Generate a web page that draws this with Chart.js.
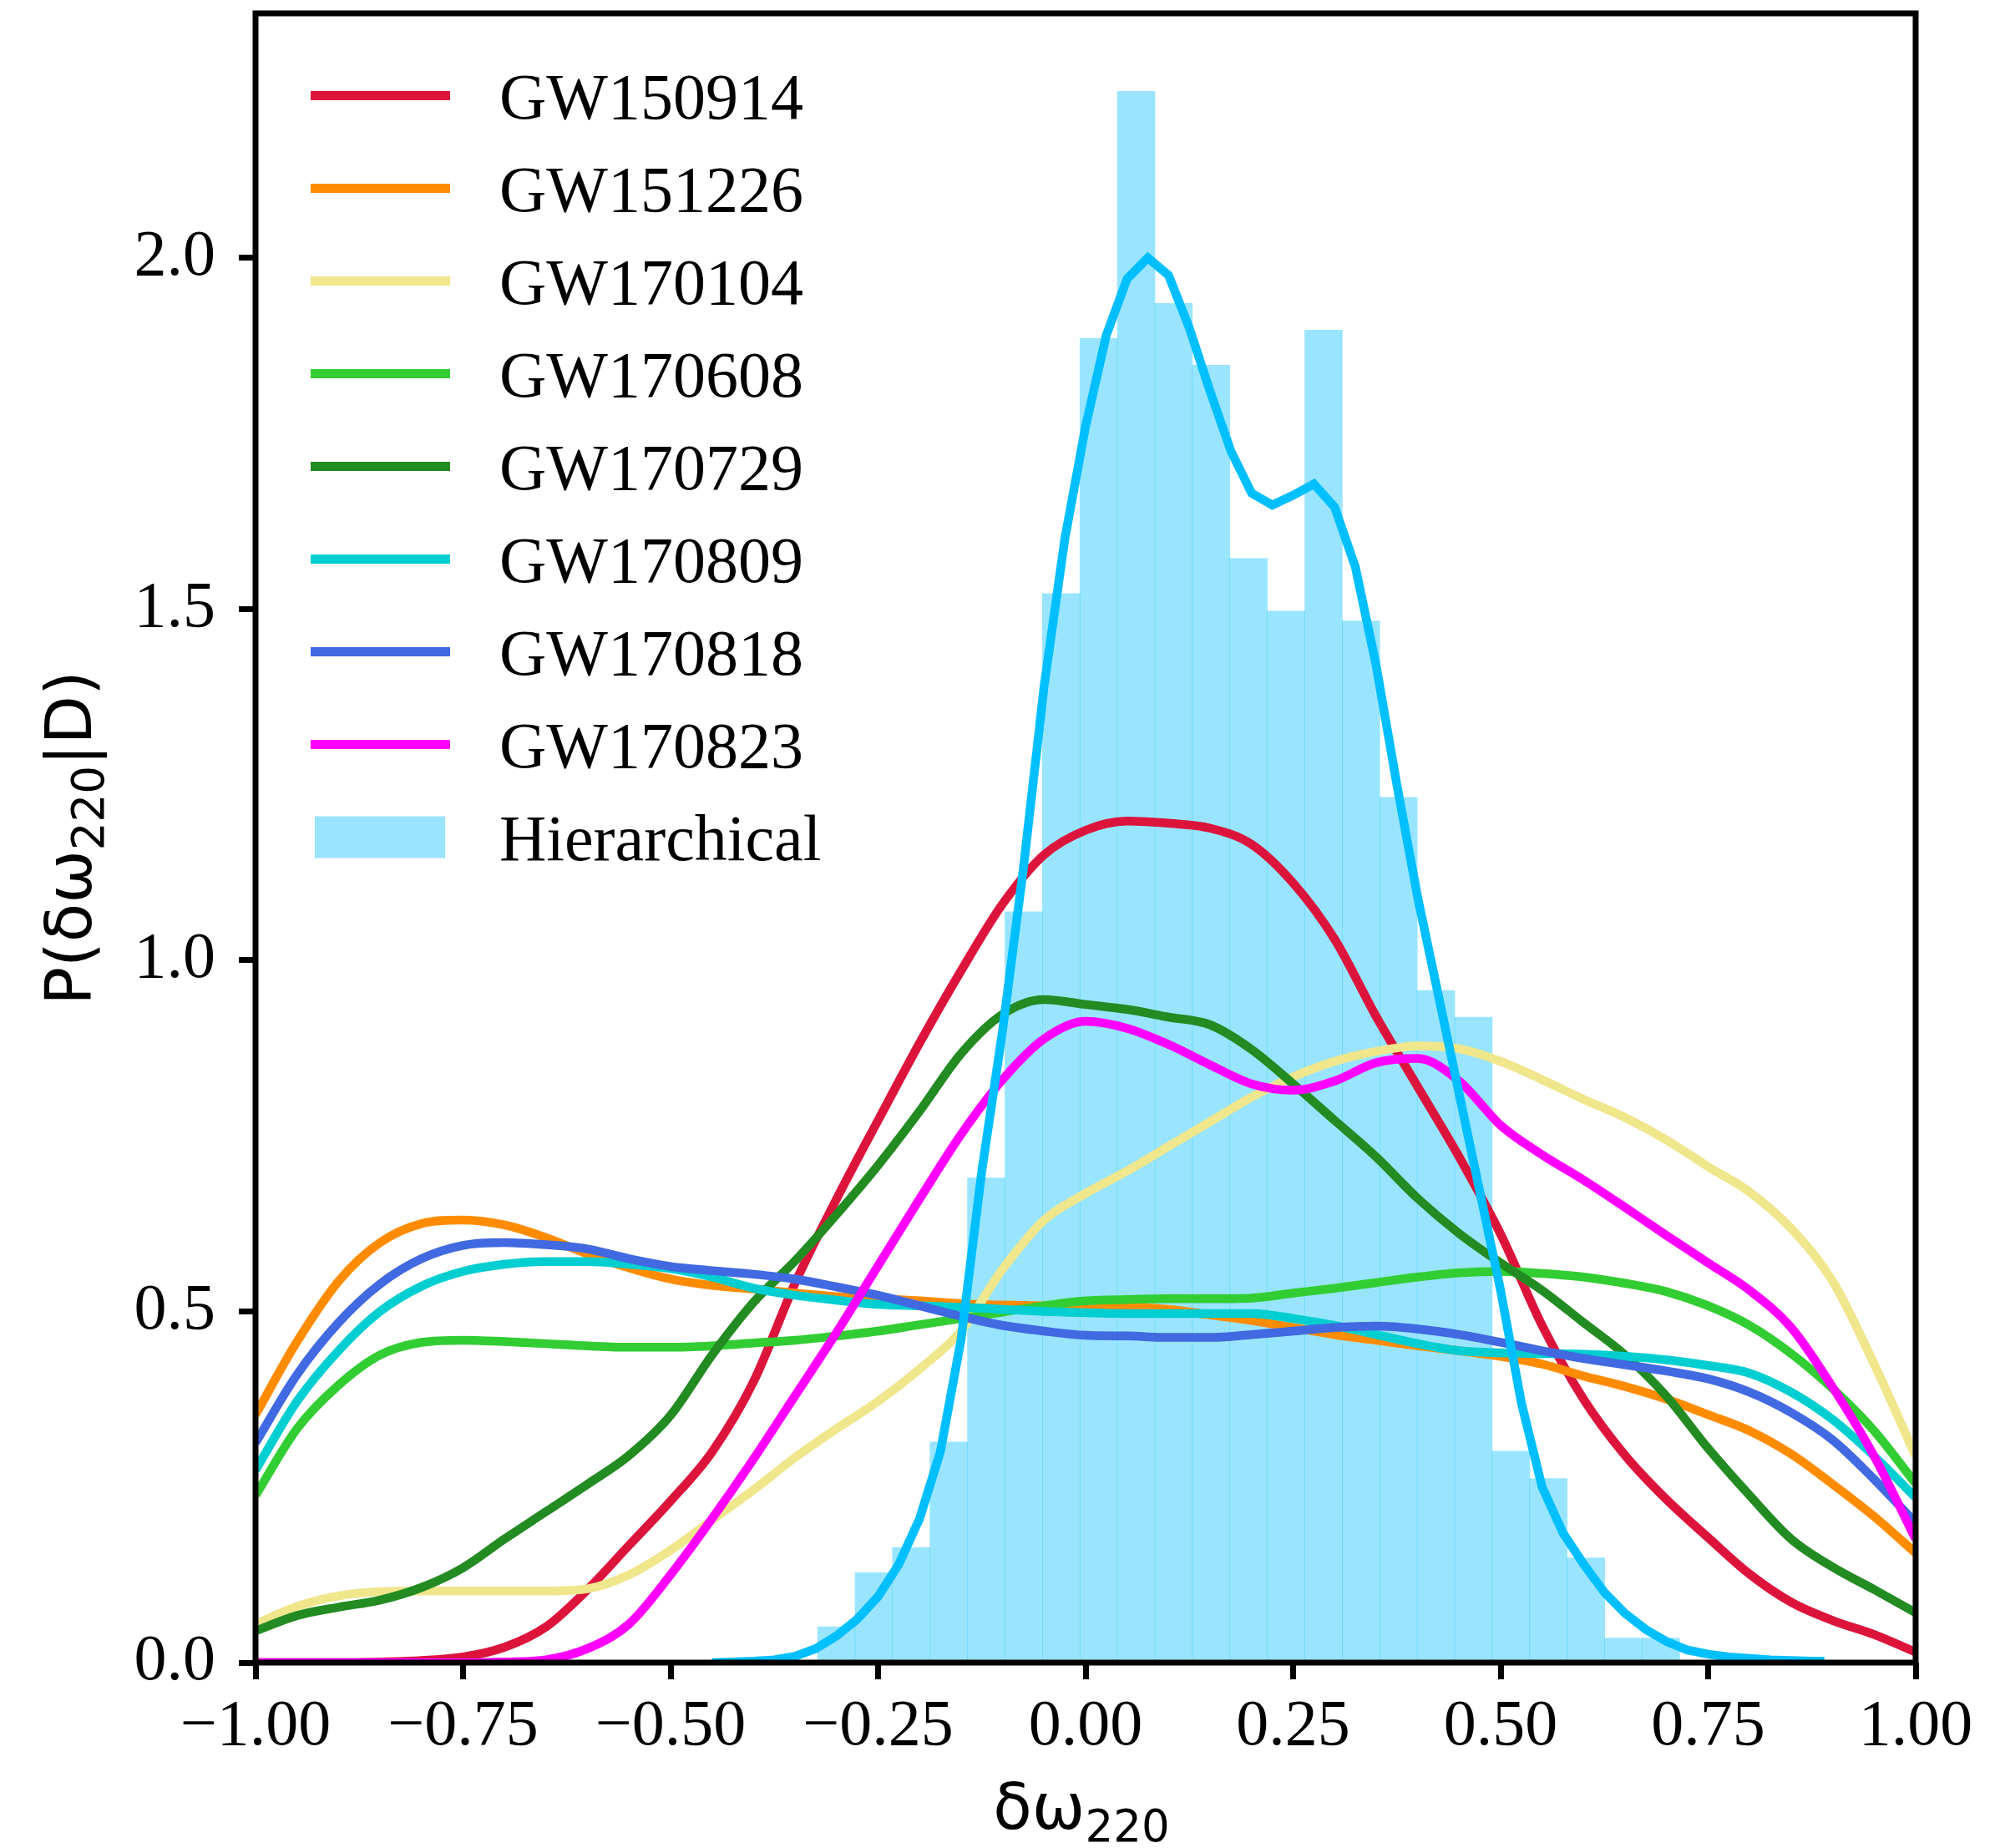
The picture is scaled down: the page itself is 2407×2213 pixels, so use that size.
<!DOCTYPE html>
<html>
<head>
<meta charset="utf-8">
<script src="https://cdn.jsdelivr.net/npm/chart.js@4.4.1/dist/chart.umd.min.js"></script>
<style>
  html, body { margin: 0; padding: 0; background: #ffffff; }
  canvas { display: block; }
</style>
</head>
<body>
<canvas id="chart" width="2407" height="2213"></canvas>
<script>
// Grid of delta-omega_220 values on which each event's posterior density is tabulated
const xGrid = [-1.00, -0.95, -0.90, -0.85, -0.80, -0.75, -0.70, -0.65, -0.60, -0.55,
               -0.50, -0.45, -0.40, -0.35, -0.30, -0.25, -0.20, -0.15, -0.10, -0.05,
                0.00,  0.05,  0.10,  0.15,  0.20,  0.25,  0.30,  0.35,  0.40,  0.45,
                0.50,  0.55,  0.60,  0.65,  0.70,  0.75,  0.80,  0.85,  0.90,  0.95, 1.00];

// Posterior densities P(delta omega_220 | D) for each event
const gw150914 = [0.000, 0.000, 0.000, 0.001, 0.003, 0.008, 0.022, 0.051, 0.104, 0.167,
                  0.230, 0.300, 0.400, 0.540, 0.660, 0.772, 0.882, 0.985, 1.080, 1.150,
                  1.185, 1.198, 1.195, 1.188, 1.165, 1.110, 1.030, 0.920, 0.820, 0.720,
                  0.610, 0.480, 0.375, 0.295, 0.232, 0.178, 0.126, 0.086, 0.060, 0.040, 0.015];
const gw151226 = [0.353, 0.457, 0.543, 0.598, 0.625, 0.630, 0.623, 0.605, 0.582, 0.562,
                  0.546, 0.537, 0.532, 0.526, 0.521, 0.518, 0.515, 0.511, 0.509, 0.508,
                  0.506, 0.506, 0.503, 0.495, 0.487, 0.477, 0.467, 0.459, 0.451, 0.444,
                  0.436, 0.425, 0.408, 0.393, 0.375, 0.353, 0.330, 0.297, 0.254, 0.208, 0.156];
const gw170104 = [0.055, 0.080, 0.095, 0.101, 0.102, 0.102, 0.102, 0.102, 0.105, 0.125,
                  0.160, 0.203, 0.246, 0.292, 0.333, 0.372, 0.418, 0.472, 0.560, 0.630,
                  0.668, 0.700, 0.735, 0.770, 0.805, 0.834, 0.856, 0.870, 0.878, 0.874,
                  0.856, 0.830, 0.802, 0.776, 0.744, 0.706, 0.670, 0.618, 0.543, 0.425, 0.294];
const gw170608 = [0.238, 0.333, 0.395, 0.438, 0.456, 0.459, 0.457, 0.454, 0.451, 0.449,
                  0.449, 0.451, 0.455, 0.459, 0.465, 0.472, 0.481, 0.490, 0.499, 0.508,
                  0.515, 0.517, 0.518, 0.518, 0.519, 0.526, 0.533, 0.541, 0.549, 0.555,
                  0.557, 0.554, 0.549, 0.540, 0.528, 0.508, 0.480, 0.440, 0.390, 0.330, 0.255];
const gw170729 = [0.045, 0.067, 0.079, 0.089, 0.107, 0.135, 0.176, 0.215, 0.254, 0.295,
                  0.352, 0.438, 0.513, 0.572, 0.638, 0.708, 0.785, 0.867, 0.923, 0.944,
                  0.937, 0.930, 0.919, 0.908, 0.873, 0.824, 0.772, 0.720, 0.661, 0.611,
                  0.569, 0.530, 0.484, 0.438, 0.379, 0.305, 0.238, 0.176, 0.136, 0.104, 0.071];
const gw170809 = [0.274, 0.372, 0.444, 0.500, 0.536, 0.557, 0.567, 0.571, 0.571, 0.567,
                  0.561, 0.549, 0.533, 0.523, 0.516, 0.510, 0.508, 0.506, 0.503, 0.500,
                  0.498, 0.497, 0.497, 0.497, 0.497, 0.490, 0.480, 0.467, 0.454, 0.444,
                  0.441, 0.440, 0.439, 0.436, 0.431, 0.423, 0.412, 0.385, 0.346, 0.294, 0.235];
const gw170818 = [0.313, 0.410, 0.484, 0.539, 0.575, 0.594, 0.598, 0.595, 0.589, 0.575,
                  0.564, 0.558, 0.553, 0.546, 0.535, 0.523, 0.508, 0.493, 0.480, 0.472,
                  0.466, 0.465, 0.463, 0.463, 0.467, 0.472, 0.477, 0.479, 0.475, 0.467,
                  0.456, 0.444, 0.433, 0.424, 0.415, 0.404, 0.385, 0.356, 0.317, 0.261, 0.199];
const gw170823 = [0.000, 0.000, 0.000, 0.000, 0.000, 0.000, 0.001, 0.004, 0.020, 0.055,
                  0.125, 0.205, 0.290, 0.380, 0.470, 0.565, 0.660, 0.752, 0.830, 0.888,
                  0.913, 0.903, 0.880, 0.851, 0.824, 0.815, 0.828, 0.854, 0.860, 0.828,
                  0.765, 0.723, 0.687, 0.648, 0.608, 0.569, 0.530, 0.477, 0.392, 0.294, 0.176];

const eventNames  = ['GW150914', 'GW151226', 'GW170104', 'GW170608',
                     'GW170729', 'GW170809', 'GW170818', 'GW170823'];
const eventSeries = [gw150914, gw151226, gw170104, gw170608,
                     gw170729, gw170809, gw170818, gw170823];

// Combined (hierarchical) density estimate
const hierX = [-0.450, -0.425, -0.400, -0.375, -0.350, -0.325, -0.300, -0.275, -0.250, -0.225,
               -0.200, -0.175, -0.150, -0.125, -0.100, -0.075, -0.050, -0.025,  0.000,  0.025,
                0.050,  0.075,  0.100,  0.125,  0.150,  0.175,  0.200,  0.225,  0.250,  0.275,
                0.300,  0.325,  0.350,  0.375,  0.400,  0.425,  0.450,  0.475,  0.500,  0.525,
                0.550,  0.575,  0.600,  0.625,  0.650,  0.675,  0.700,  0.725,  0.750,  0.775,
                0.800,  0.825,  0.850,  0.875,  0.890];
const hierY = [0.000, 0.001, 0.002, 0.004, 0.009, 0.020, 0.038, 0.062, 0.094, 0.140,
               0.205, 0.300, 0.460, 0.700, 0.900, 1.130, 1.390, 1.600, 1.760, 1.890,
               1.970, 2.000, 1.975, 1.900, 1.810, 1.725, 1.665, 1.648, 1.662, 1.678,
               1.645, 1.560, 1.420, 1.250, 1.090, 0.950, 0.810, 0.670, 0.530, 0.370,
               0.250, 0.185, 0.140, 0.100, 0.070, 0.047, 0.030, 0.018, 0.012, 0.008,
               0.006, 0.004, 0.003, 0.002, 0.002];

// Hierarchical samples histogram (density-normalised)
const histEdges = [-0.3229, -0.2777, -0.2326, -0.1874, -0.1423, -0.0971, -0.0520, -0.0068,
                    0.0383,  0.0835,  0.1287,  0.1738,  0.2190,  0.2641,  0.3093,  0.3544,
                    0.3996,  0.4447,  0.4899,  0.5351,  0.5802,  0.6254,  0.6705,  0.7157];
const histHeights = [0.051, 0.128, 0.164, 0.314, 0.690, 1.069, 1.522, 1.885, 2.237, 1.935,
                     1.847, 1.572, 1.497, 1.897, 1.483, 1.232, 0.957, 0.919, 0.301, 0.262,
                     0.149, 0.035, 0.035];

const xTicks = [-1.00, -0.75, -0.50, -0.25, 0.00, 0.25, 0.50, 0.75, 1.00];
const yTicks = [0.0, 0.5, 1.0, 1.5, 2.0];

// ---- styling ----
const eventColors = ['#DC143C', '#FF8C00', '#F0E68C', '#32CD32',
                     '#228B22', '#00CED1', '#4169E1', '#FF00FF'];
const hierLineColor = '#00BFFF';
const hierFill = 'rgba(0, 191, 255, 0.4)';
const SERIF = "'Liberation Serif', 'Times New Roman', serif";
const SANS = "'DejaVu Sans', sans-serif";
const LINE_W = 10.5;

const fmt = (v, d) => (v < 0 ? '\u2212' : '') + Math.abs(v).toFixed(d);

const datasets = [];
eventNames.forEach((name, i) => {
  datasets.push({
    type: 'line',
    label: name,
    data: xGrid.map((x, j) => ({ x: x, y: eventSeries[i][j] })),
    borderColor: eventColors[i],
    backgroundColor: eventColors[i],
    borderWidth: LINE_W,
    pointRadius: 0,
    fill: false,
    cubicInterpolationMode: 'monotone',
    clip: 0,
    order: 10 - i
  });
});
datasets.push({
  type: 'line',
  label: 'Hierarchical density',
  data: hierX.map((x, j) => ({ x: x, y: hierY[j] })),
  borderColor: hierLineColor,
  borderWidth: LINE_W,
  pointRadius: 0,
  fill: false,
  tension: 0,
  clip: 0,
  order: 1,
  hideInLegend: true
});
datasets.push({
  type: 'bar',
  label: 'Hierarchical',
  data: histHeights.map((h, j) => ({ x: (histEdges[j] + histEdges[j + 1]) / 2, y: h })),
  backgroundColor: hierFill,
  borderWidth: 0,
  barPercentage: 1.0,
  categoryPercentage: 1.0,
  clip: 0,
  order: 100
});

// Axes box drawn over the data, as four spines
const frame = {
  id: 'frame',
  afterDatasetsDraw(chart) {
    const { ctx, chartArea: a } = chart;
    ctx.save();
    ctx.strokeStyle = '#000';
    ctx.lineWidth = 7;
    ctx.lineJoin = 'miter';
    ctx.strokeRect(a.left, a.top, a.right - a.left, a.bottom - a.top);
    ctx.restore();
  }
};

// Vertical legend in the upper-left corner of the plot
const legendBox = {
  id: 'legendBox',
  afterDraw(chart) {
    const { ctx } = chart;
    const items = chart.data.datasets.filter(d => !d.hideInLegend);
    const x0 = 372, x1 = 539, textX = 598, rowY0 = 114.5, rowStep = 111;
    ctx.save();
    ctx.font = `78px ${SERIF}`;
    ctx.textAlign = 'left';
    ctx.textBaseline = 'alphabetic';
    items.forEach((d, i) => {
      const y = rowY0 + i * rowStep;
      if (d.type === 'bar') {
        ctx.fillStyle = d.backgroundColor;
        ctx.fillRect(377, y - 25, 156, 50);
      } else {
        ctx.strokeStyle = d.borderColor;
        ctx.lineWidth = 11;
        ctx.lineCap = 'butt';
        ctx.beginPath();
        ctx.moveTo(x0, y);
        ctx.lineTo(x1, y);
        ctx.stroke();
      }
      ctx.fillStyle = '#000';
      ctx.fillText(d.label, textX, y + 27);
    });
    ctx.restore();
  }
};

// Axis titles with subscripted mode indices
function drawMixed(ctx, parts, cx, baseY, size, subSize, subDrop) {
  const widths = parts.map(p => {
    ctx.font = `${p.sub ? subSize : size}px ${SANS}`;
    return ctx.measureText(p.text).width;
  });
  const total = widths.reduce((s, w) => s + w, 0);
  let x = cx - total / 2;
  parts.forEach((p, i) => {
    ctx.font = `${p.sub ? subSize : size}px ${SANS}`;
    ctx.fillText(p.text, x, baseY + (p.sub ? subDrop : 0));
    x += widths[i];
  });
}
const axisTitles = {
  id: 'axisTitles',
  afterDraw(chart) {
    const { ctx, chartArea: a } = chart;
    const size = 76, sub = 53, drop = 15;
    ctx.save();
    ctx.fillStyle = '#000';
    ctx.textAlign = 'left';
    ctx.textBaseline = 'alphabetic';
    drawMixed(ctx, [{ text: '\u03B4\u03C9' }, { text: '220', sub: true }],
              (a.left + a.right) / 2 - 5, 2190, size, sub, drop);
    ctx.translate(109, (a.top + a.bottom) / 2);
    ctx.rotate(-Math.PI / 2);
    drawMixed(ctx, [{ text: 'P(\u03B4\u03C9' }, { text: '220', sub: true }, { text: '|D)' }],
              0, 0, size, sub, drop);
    ctx.restore();
  }
};

new Chart(document.getElementById('chart'), {
  type: 'line',
  data: { datasets: datasets },
  plugins: [frame, legendBox, axisTitles],
  options: {
    responsive: false,
    animation: false,
    devicePixelRatio: 1,
    layout: { padding: { top: 16, right: 113, left: 0, bottom: 0 } },
    plugins: { legend: { display: false }, tooltip: { enabled: false } },
    scales: {
      x: {
        type: 'linear',
        min: -1, max: 1,
        offset: false,
        afterBuildTicks: s => { s.ticks = xTicks.map(v => ({ value: v })); },
        afterFit: s => { s.height = 222; s.paddingLeft = 0; s.paddingRight = 0; },
        ticks: {
          callback: v => fmt(v, 2),
          font: { family: SERIF, size: 78 },
          color: '#000',
          padding: 11,
          maxRotation: 0,
          autoSkip: false
        },
        grid: { display: true, offset: false, drawOnChartArea: false, drawTicks: true,
                tickLength: 20, tickWidth: 7, tickColor: '#000' },
        border: { display: false }
      },
      y: {
        type: 'linear',
        min: 0, max: 2.348,
        afterBuildTicks: s => { s.ticks = yTicks.map(v => ({ value: v })); },
        afterFit: s => { s.width = 306; s.paddingTop = 0; s.paddingBottom = 0; },
        ticks: {
          callback: v => fmt(v, 1),
          font: { family: SERIF, size: 78 },
          color: '#000',
          padding: 28,
          autoSkip: false
        },
        grid: { display: true, offset: false, drawOnChartArea: false, drawTicks: true,
                tickLength: 20, tickWidth: 7, tickColor: '#000' },
        border: { display: false }
      }
    }
  }
});
</script>
</body>
</html>
